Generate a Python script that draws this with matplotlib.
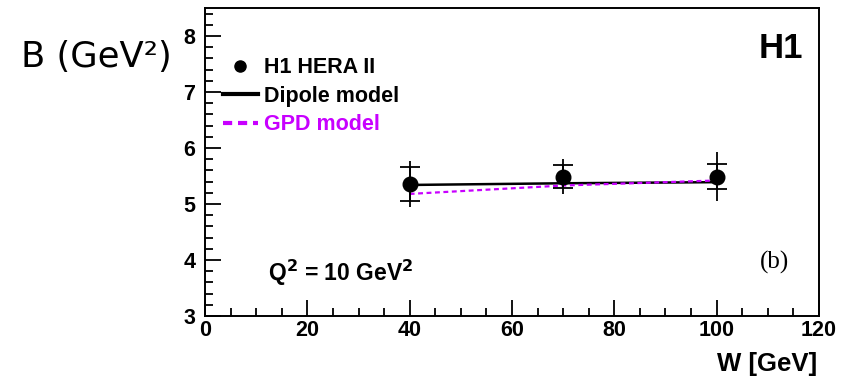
import matplotlib.pyplot as plt
from matplotlib.lines import Line2D
from matplotlib.ticker import MultipleLocator

plt.switch_backend("Agg")

# -------------------------------------------------------------------
#  DATA
# -------------------------------------------------------------------
w_points = [40, 70, 100]
b_h1 = [5.36, 5.49, 5.49]
b_stat = [0.30, 0.20, 0.22]
b_total = [0.41, 0.31, 0.43]

w_model = [40, 70, 100]
b_dipole = [5.34, 5.37, 5.39]
b_gpd = [5.18, 5.33, 5.42]

legend_labels = ["H1 HERA II", "Dipole model", "GPD model"]

GPD_COLOR = "#c800ff"
BOLD = {"family": "Liberation Sans", "weight": "bold"}

fig = plt.figure(figsize=(8.5, 3.77), dpi=100)
ax = fig.add_axes([0.2412, 0.1618, 0.7223, 0.8170])

# models
ax.plot(w_model, b_dipole, color="black", lw=1.8, zorder=2)
ax.plot(w_model, b_gpd, color=GPD_COLOR, lw=1.6, ls=(0, (2.2, 1.6)), zorder=2)

# data: total error (no caps) + stat error (caps give the "+" look)
ax.errorbar(w_points, b_h1, yerr=b_total, fmt="none", ecolor="black",
            elinewidth=1.3, capsize=0, zorder=3)
ax.errorbar(w_points, b_h1, yerr=b_stat, fmt="o", color="black",
            markersize=10.5, elinewidth=1.3, capsize=7.5, capthick=1.3, zorder=4)

ax.set_xlim(0, 120)
ax.set_ylim(3, 8.5)
ax.xaxis.set_major_locator(MultipleLocator(20))
ax.xaxis.set_minor_locator(MultipleLocator(5))
ax.yaxis.set_major_locator(MultipleLocator(1))
ax.yaxis.set_minor_locator(MultipleLocator(0.2))

ax.tick_params(which="both", direction="in", top=False, right=False, width=1.3)
ax.tick_params(which="major", length=11.5)
ax.tick_params(which="minor", length=6)
ax.tick_params(axis="x", pad=3)
ax.tick_params(axis="y", pad=7)
for lab in ax.get_xticklabels() + ax.get_yticklabels():
    lab.set_fontfamily("Liberation Sans")
    lab.set_fontweight("bold")
    lab.set_fontsize(15.5)
for sp in ax.spines.values():
    sp.set_linewidth(1.4)

# legend
handles = [
    Line2D([], [], marker="o", ls="none", color="black", markersize=8),
    Line2D([], [], color="black", lw=3),
    Line2D([], [], color=GPD_COLOR, lw=3, ls=(0, (2.2, 1.4))),
]
leg = ax.legend(handles, legend_labels, loc="upper left",
                bbox_to_anchor=(0.012, 0.875), frameon=False,
                prop={"family": "Liberation Sans", "weight": "bold", "size": 15.5},
                handlelength=1.6, handletextpad=0.3, labelspacing=0.35,
                borderpad=0.2, borderaxespad=0.3)
leg.get_texts()[2].set_color(GPD_COLOR)

# annotations
ax.text(0.974, 0.87, "H1", transform=ax.transAxes, ha="right", va="center",
        fontsize=25, **BOLD)
ax.text(0.103, 0.14, r"Q$^\mathbf{2}$ = 10 GeV$^\mathbf{2}$", transform=ax.transAxes,
        ha="left", va="center", fontsize=16.5, **BOLD)
ax.text(0.928, 0.175, "(b)", transform=ax.transAxes, ha="center", va="center",
        fontsize=18, family="Liberation Serif")

fig.text(817 / 850, 1 - 364 / 377, "W [GeV]", ha="right", va="center",
         fontsize=18.5, **BOLD)
fig.text(96 / 850, 1 - 57 / 377, "B (GeV²)", ha="center", va="center",
         fontsize=25.5, family="DejaVu Sans")

fig.savefig("out.png", dpi=100)
plt.close(fig)
